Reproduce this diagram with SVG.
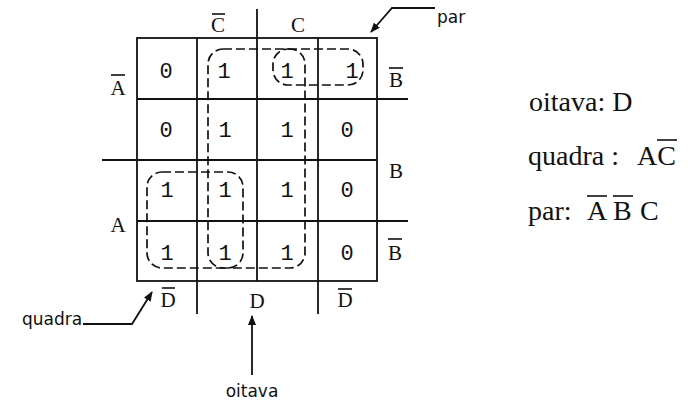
<svg xmlns="http://www.w3.org/2000/svg" width="692" height="404" viewBox="0 0 692 404">
<defs>
<style>
.g{stroke:#111;stroke-width:1.8;fill:none}
.ov{stroke:#111;stroke-width:1.6}
.loop{stroke:#111;stroke-width:1.7;fill:none;stroke-dasharray:9 4}
.m{font-family:"Liberation Mono",monospace;font-size:22px;fill:#111;text-anchor:middle}
.l{font-family:"Liberation Serif",serif;font-size:21px;fill:#111;text-anchor:middle}
.s{font-family:"DejaVu Sans",sans-serif;font-size:17px;fill:#111}
.t{font-family:"Liberation Serif",serif;font-size:28px;fill:#111}
.arr{stroke:#111;stroke-width:1.8;fill:none}
</style>
<marker id="ah" viewBox="0 0 10 8" refX="9" refY="4" markerWidth="10" markerHeight="8" markerUnits="userSpaceOnUse" orient="auto">
<path d="M0,0 L10,4 L0,8 Z" fill="#111"/>
</marker>
</defs>
<rect width="692" height="404" fill="#fff"/>

<g id="grid">
<rect class="g" x="137" y="38" width="240" height="243"/>
<line class="g" x1="197" y1="38" x2="197" y2="314"/>
<line class="g" x1="257" y1="9" x2="257" y2="281"/>
<line class="g" x1="318" y1="38" x2="318" y2="314"/>
<line class="g" x1="137" y1="99" x2="408" y2="99"/>
<line class="g" x1="102" y1="160" x2="377" y2="160"/>
<line class="g" x1="137" y1="221" x2="408" y2="221"/>
</g>

<g id="labels">
<text class="l" x="218" y="32">C</text><line class="ov" x1="212" y1="14" x2="225" y2="14"/>
<text class="l" x="298" y="32">C</text>
<text class="l" x="118" y="95">A</text><line class="ov" x1="111" y1="75" x2="125" y2="75"/>
<text class="l" x="396" y="87">B</text><line class="ov" x1="389" y1="68" x2="403" y2="68"/>
<text class="l" x="396" y="178">B</text>
<text class="l" x="118" y="232">A</text>
<text class="l" x="395" y="260">B</text><line class="ov" x1="388" y1="239" x2="402" y2="239"/>
<text class="l" x="168" y="307">D</text><line class="ov" x1="162" y1="288" x2="175" y2="288"/>
<text class="l" x="257" y="308">D</text>
<text class="l" x="345" y="307">D</text><line class="ov" x1="338" y1="289" x2="352" y2="289"/>
</g>

<g id="cells">
<text class="m" x="166" y="78">0</text>
<text class="m" x="224" y="78">1</text>
<text class="m" x="287" y="78">1</text>
<text class="m" x="352" y="78">1</text>
<text class="m" x="166" y="137">0</text>
<text class="m" x="225" y="137">1</text>
<text class="m" x="287" y="137">1</text>
<text class="m" x="347" y="137">0</text>
<text class="m" x="167" y="197">1</text>
<text class="m" x="225" y="197">1</text>
<text class="m" x="287" y="197">1</text>
<text class="m" x="347" y="197">0</text>
<text class="m" x="167" y="260">1</text>
<text class="m" x="225" y="260">1</text>
<text class="m" x="287" y="260">1</text>
<text class="m" x="347" y="260">0</text>
</g>

<g id="loops">
<rect id="oitava-loop" class="loop" x="208" y="49" width="97" height="219" rx="15"/>
<rect id="quadra-loop" class="loop" x="147" y="172" width="96" height="96" rx="15"/>
<rect id="par-loop" class="loop" x="273" y="49" width="90" height="36" rx="15"/>
</g>

<g id="connectors">
<polyline class="arr" points="435,8 392,8 371,32" marker-end="url(#ah)"/>
<polyline class="arr" points="83,324 132,324 152,292" marker-end="url(#ah)"/>
<line class="arr" x1="252" y1="375" x2="252" y2="316" marker-end="url(#ah)"/>
</g>

<g id="callouts">
<text class="s" x="437" y="23">par</text>
<text class="s" x="22" y="325">quadra</text>
<text class="s" x="252" y="397" text-anchor="middle">oitava</text>
</g>

<g id="results">
<text class="t" x="529" y="111">oitava: D</text>
<text class="t" x="528" y="165">quadra :</text>
<text class="t" x="637" y="165">AC</text>
<line class="ov" x1="657" y1="140" x2="677" y2="140"/>
<text class="t" x="528" y="220">par:</text>
<text class="t" x="587" y="220">A</text>
<line class="ov" x1="587" y1="196" x2="607" y2="196"/>
<text class="t" x="613" y="220">B</text>
<line class="ov" x1="613" y1="196" x2="633" y2="196"/>
<text class="t" x="640" y="220">C</text>
</g>
</svg>
